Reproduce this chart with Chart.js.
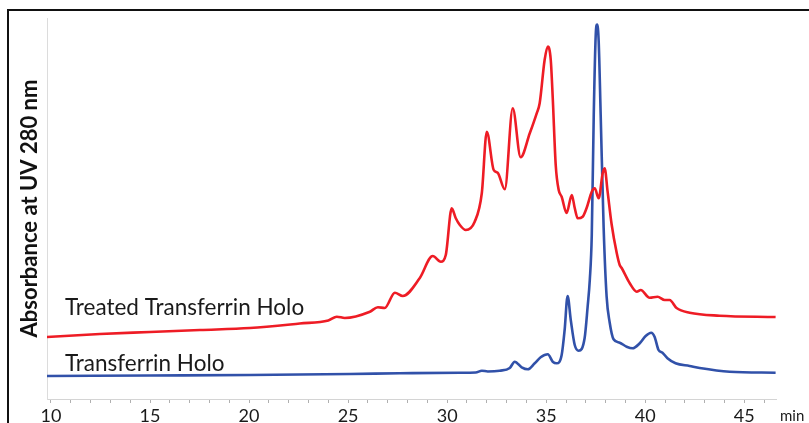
<!DOCTYPE html>
<html><head><meta charset="utf-8">
<script src="https://cdn.jsdelivr.net/npm/chart.js@4.4.1/dist/chart.umd.min.js"></script>
<style>
html,body{margin:0;padding:0;background:#fff;overflow:hidden;}
#wrap{position:relative;width:809px;height:423px;}
#frame{position:absolute;left:7px;top:9px;right:-5px;bottom:-5px;border-top:2px solid #111;border-left:2px solid #111;pointer-events:none;}
canvas{position:absolute;left:0;top:0;}
</style></head><body>
<div id="wrap"><canvas id="c" width="809" height="423"></canvas><div id="frame"></div></div>
<script>
// Retention time (min) and absorbance (arbitrary units)
const treatedTime = [9.8,12.47,15.0,17.52,20.04,22.56,24.0,24.43,24.83,26.10,26.50,26.85,27.36,27.76,28.62,29.27,29.68,29.93,30.23,30.43,30.64,30.94,31.39,31.75,32.00,32.35,32.55,32.91,33.31,33.71,34.17,34.52,34.67,34.92,35.08,35.23,35.33,35.48,35.63,35.78,36.03,36.29,36.44,36.59,36.84,37.04,37.30,37.45,37.65,37.85,37.95,38.10,38.30,38.56,38.71,38.81,39.21,39.57,39.77,40.22,40.62,40.98,41.23,41.58,42.24,43.75,46.58];
const treatedAbs = [62,65,67,69,71,75.5,78.5,82.3,81,87.3,91.7,91,106.3,103,121,143,137.3,144,190.7,181,174,169,177.3,206,267.3,229,226.3,209.7,290.7,241.7,265.7,285.7,295.7,339,352.5,339,301,234,209,202.3,186,204,191,180.7,182.3,191,207.3,210.7,200.7,225.7,230.7,207.3,175,146,134,131,116,107.3,109,101.3,102.3,99,99,91,86.3,83.3,82];
const holoTime = [9.8,15.0,20.04,25.09,27.61,30.64,31.44,31.75,32.05,32.65,33.16,33.41,33.76,34.07,34.42,34.72,35.08,35.33,35.53,35.78,35.93,36.08,36.24,36.44,36.64,36.94,37.09,37.20,37.30,37.40,37.50,37.57,37.65,37.75,37.90,38.05,38.20,38.40,38.71,39.06,39.36,39.72,40.02,40.30,40.47,40.67,40.87,41.12,41.53,42.24,42.75,44.26,46.58];
const holoAbs = [23,23.5,24,25,25.7,26.3,26.5,28.3,27.5,28.3,31,37.3,31.7,29.7,35.7,41.7,44.7,37.3,35.7,44,69,103,79,54,48.3,61,92,119,164,284,364,374.5,357.3,284,171,102.3,77,59.7,56.3,52.3,50.7,55.7,63,66.3,62.3,49,46.3,40.7,35.7,33,31,27.3,26.3];
const seriesNames = ['Treated Transferrin Holo','Transferrin Holo'];
const labelAnchors = [[10.71,84],[10.71,28]];
const xTickLabels = [10,15,20,25,30,35,40,45];
const xUnit = 'min';
const yTitle = 'Absorbance at UV 280 nm';

const toPts = (t,a) => t.map((v,i)=>({x:v,y:a[i]}));

const labelPlugin = {
  id:'seriesLabels',
  afterDatasetsDraw(chart){
    const {ctx, scales:{x,y}} = chart;
    ctx.save();
    ctx.fillStyle = '#1a1a1a';
    ctx.textBaseline = 'alphabetic';
    ctx.textAlign = 'left';
    ctx.font = '22.5px Lato';
    seriesNames.forEach((n,i)=>{
      ctx.fillText(n, x.getPixelForValue(labelAnchors[i][0]), y.getPixelForValue(labelAnchors[i][1]));
    });
    ctx.font = '15px Lato';
    ctx.fillText(xUnit, x.right + 4, chart.height - 2);
    ctx.restore();
  }
};

new Chart(document.getElementById('c'), {
  type:'line',
  data:{
    datasets:[
      {label:seriesNames[0], data:toPts(treatedTime,treatedAbs), borderColor:'#ee1c25', borderWidth:2.6, pointRadius:0, cubicInterpolationMode:'monotone', order:0},
      {label:seriesNames[1], data:toPts(holoTime,holoAbs), borderColor:'#3151a9', borderWidth:2.6, pointRadius:0, cubicInterpolationMode:'monotone', order:1}
    ]
  },
  options:{
    responsive:false, animation:false, devicePixelRatio:1,
    layout:{padding:{left:10,top:18,right:33,bottom:0}},
    plugins:{legend:{display:false}, tooltip:{enabled:false}},
    scales:{
      x:{
        type:'linear', min:9.8, max:46.6,
        afterFit:(s)=>{ s.height = 24; },
        border:{display:true, color:'#d4d4d4', width:1},
        grid:{display:true, drawOnChartArea:false, drawTicks:true, tickLength:4, color:'#b0b0b0'},
        ticks:{stepSize:1, includeBounds:false, padding:2, color:'#1a1a1a', font:{family:'Lato', size:18},
          maxRotation:0, autoSkip:false,
          callback:(v)=> xTickLabels.includes(v) ? String(v) : ''}
      },
      y:{
        min:0, max:381,
        afterFit:(s)=>{ s.width = 37; },
        border:{display:true, color:'#dcdcdc', width:1},
        grid:{display:false},
        ticks:{display:false},
        title:{display:true, text:yTitle, color:'#111', font:{family:'Lato', size:22, weight:'bold'}, padding:{top:7,bottom:0}}
      }
    }
  },
  plugins:[labelPlugin]
});
</script>
</body></html>
